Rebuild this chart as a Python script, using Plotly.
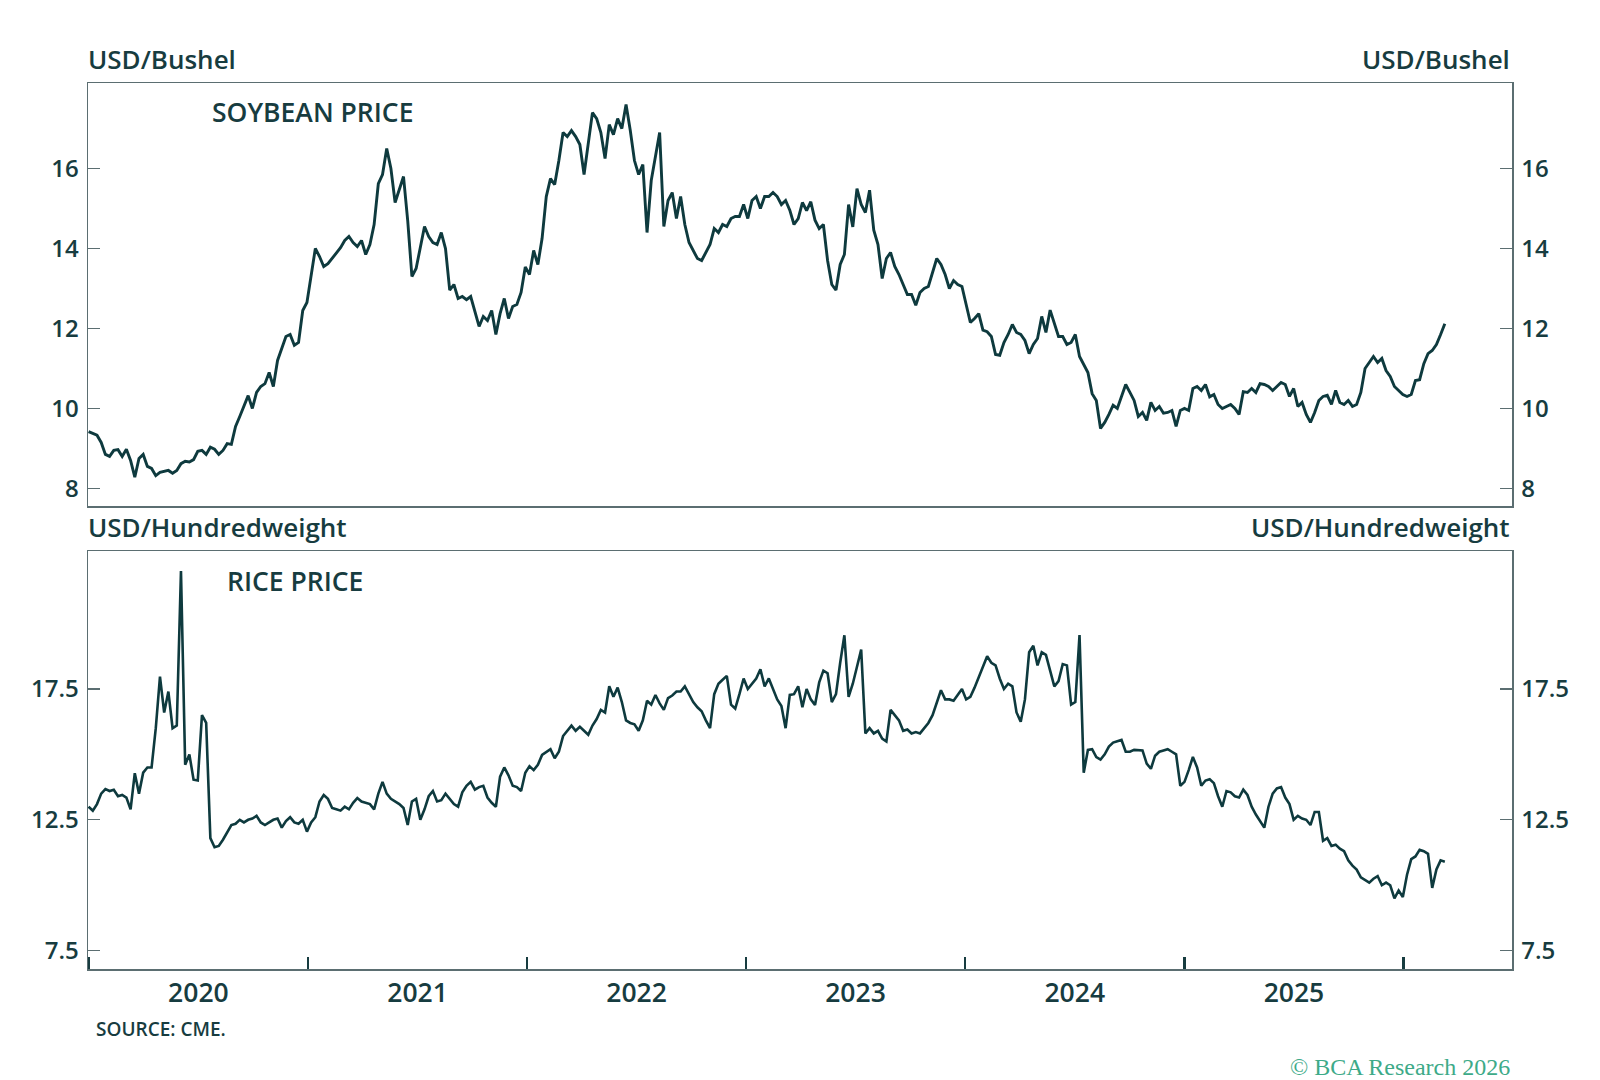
import pandas as pd
import plotly.graph_objects as go

# ---------------- data (weekly readings, starting 2020-01-01) ----------------
start_date = "2020-01-01"

soybean_usd_bushel = [
    9.42, 9.37, 9.33, 9.15, 8.85, 8.8, 8.95, 8.97, 8.8, 8.98,
    8.7, 8.28, 8.75, 8.85, 8.55, 8.5, 8.32, 8.4, 8.42, 8.45,
    8.38, 8.45, 8.62, 8.68, 8.66, 8.72, 8.93, 8.95, 8.85, 9.03,
    8.98, 8.85, 8.95, 9.12, 9.1, 9.55, 9.8, 10.05, 10.32, 10.0,
    10.4, 10.55, 10.62, 10.9, 10.55, 11.2, 11.5, 11.8, 11.85, 11.58,
    11.65, 12.45, 12.65, 13.3, 14.0, 13.8, 13.55, 13.62, 13.75, 13.9,
    14.02, 14.2, 14.3, 14.15, 14.05, 14.2, 13.85, 14.1, 14.6, 15.62,
    15.85, 16.5, 16.0, 15.15, 15.45, 15.8, 14.7, 13.3, 13.5, 14.0,
    14.55, 14.3, 14.15, 14.1, 14.4, 14.0, 12.96, 13.1, 12.75, 12.8,
    12.72, 12.8, 12.45, 12.05, 12.3, 12.2, 12.45, 11.85, 12.37, 12.75,
    12.25, 12.55, 12.6, 12.9, 13.54, 13.35, 13.95, 13.6, 14.25, 15.3,
    15.75, 15.6, 16.2, 16.9, 16.8, 16.95, 16.8, 16.6, 15.85, 16.6,
    17.4, 17.25, 16.9, 16.25, 17.1, 16.85, 17.25, 17.0, 17.6, 16.96,
    16.2, 15.85, 16.1, 14.4, 15.7, 16.3, 16.9, 14.55, 15.2, 15.4,
    14.75, 15.3, 14.6, 14.15, 13.95, 13.75, 13.7, 13.9, 14.1, 14.5,
    14.4, 14.6, 14.55, 14.75, 14.8, 14.8, 15.1, 14.75, 15.2, 15.3,
    15.0, 15.3, 15.3, 15.4, 15.3, 15.1, 15.2, 14.96, 14.6, 14.75,
    15.15, 14.95, 15.17, 14.71, 14.5, 14.6, 13.7, 13.1, 12.96, 13.6,
    13.85, 15.1, 14.54, 15.5, 15.1, 14.9, 15.46, 14.46, 14.1, 13.25,
    13.75, 13.9, 13.55, 13.35, 13.1, 12.85, 12.85, 12.58, 12.9, 13.0,
    13.05, 13.4, 13.75, 13.6, 13.35, 13.0, 13.2, 13.1, 13.05, 12.6,
    12.15, 12.25, 12.37, 11.96, 11.92, 11.8, 11.35, 11.33, 11.65, 11.85,
    12.1, 11.9, 11.85, 11.7, 11.37, 11.6, 11.75, 12.3, 11.9, 12.46,
    12.1, 11.8, 11.8, 11.6, 11.65, 11.85, 11.3, 11.1, 10.9, 10.37,
    10.2, 9.5, 9.65, 9.85, 10.08, 10.0, 10.3, 10.6, 10.4, 10.2,
    9.8, 9.9, 9.7, 10.15, 9.95, 10.05, 9.88, 9.9, 9.95, 9.55,
    9.95, 10.0, 9.95, 10.5, 10.55, 10.45, 10.6, 10.29, 10.35, 10.1,
    10.0, 10.05, 10.1, 10.0, 9.85, 10.42, 10.4, 10.5, 10.4, 10.62,
    10.6, 10.55, 10.45, 10.55, 10.65, 10.6, 10.3, 10.5, 10.05, 10.15,
    9.85, 9.65, 9.9, 10.2, 10.3, 10.33, 10.1, 10.45, 10.15, 10.1,
    10.2, 10.05, 10.1, 10.4, 11.0, 11.15, 11.3, 11.15, 11.25, 10.95,
    10.8, 10.55, 10.45, 10.35, 10.3, 10.35, 10.7, 10.72, 11.12, 11.37,
    11.45, 11.6, 11.85, 12.12,
]

rice_usd_cwt = [
    13.0, 12.85, 13.1, 13.5, 13.67, 13.6, 13.65, 13.4, 13.45, 13.35,
    12.9, 14.28, 13.5, 14.3, 14.5, 14.5, 16.0, 17.97, 16.6, 17.4,
    16.0, 16.1, 22.0, 14.6, 15.0, 14.03, 14.0, 16.5, 16.2, 11.8,
    11.45, 11.5, 11.74, 12.0, 12.3, 12.35, 12.5, 12.4, 12.5, 12.55,
    12.65, 12.4, 12.3, 12.4, 12.5, 12.55, 12.2, 12.45, 12.6, 12.4,
    12.35, 12.5, 12.05, 12.4, 12.6, 13.2, 13.45, 13.3, 12.95, 12.9,
    12.85, 13.0, 12.9, 13.15, 13.33, 13.2, 13.15, 13.1, 12.9, 13.5,
    13.95, 13.5, 13.3, 13.2, 13.1, 12.95, 12.3, 13.2, 13.3, 12.5,
    12.9, 13.4, 13.6, 13.2, 13.25, 13.5, 13.3, 13.1, 13.0, 13.55,
    13.8, 13.95, 13.65, 13.75, 13.8, 13.35, 13.15, 13.0, 14.15, 14.5,
    14.2, 13.8, 13.75, 13.6, 14.3, 14.55, 14.4, 14.6, 14.98, 15.1,
    15.2, 14.85, 15.1, 15.7, 15.9, 16.1, 15.9, 16.05, 15.9, 15.75,
    16.1, 16.35, 16.7, 16.6, 17.6, 17.2, 17.55, 17.0, 16.3, 16.2,
    16.15, 15.9, 16.3, 17.05, 16.9, 17.27, 16.95, 16.7, 17.15, 17.25,
    17.4, 17.4, 17.6, 17.3, 17.0, 16.8, 16.65, 16.3, 16.0, 17.3,
    17.7, 17.85, 18.0, 16.9, 16.75, 17.3, 17.9, 17.5, 17.7, 17.9,
    18.25, 17.6, 17.9, 17.5, 17.1, 16.85, 16.0, 17.27, 17.3, 17.6,
    16.8, 17.5, 17.1, 16.89, 17.75, 18.2, 18.1, 17.0, 17.3, 18.5,
    19.55, 17.2, 17.7, 18.35, 19.0, 15.8, 16.0, 15.8, 15.9, 15.6,
    15.49, 16.7, 16.5, 16.3, 15.9, 15.95, 15.8, 15.85, 15.8, 16.0,
    16.2, 16.5, 16.95, 17.45, 17.1, 17.1, 17.05, 17.3, 17.5, 17.1,
    17.2, 17.55, 17.95, 18.29, 18.75, 18.5, 18.4, 17.9, 17.5, 17.7,
    17.6, 16.6, 16.25, 17.1, 18.9, 19.15, 18.4, 18.9, 18.8, 18.2,
    17.6, 17.8, 18.45, 18.4, 16.9, 17.0, 19.56, 14.3, 15.17, 15.2,
    14.9, 14.8, 15.0, 15.3, 15.45, 15.5, 15.55, 15.1, 15.1, 15.17,
    15.15, 15.15, 14.65, 14.45, 14.95, 15.1, 15.15, 15.2, 15.1, 15.0,
    13.8, 13.95, 14.4, 14.9, 14.5, 13.8, 14.0, 14.05, 13.9, 13.4,
    13.0, 13.6, 13.55, 13.4, 13.35, 13.65, 13.45, 13.0, 12.7, 12.45,
    12.2, 13.0, 13.5, 13.7, 13.75, 13.35, 13.1, 12.5, 12.65, 12.55,
    12.5, 12.3, 12.8, 12.8, 11.7, 11.8, 11.5, 11.55, 11.4, 11.3,
    10.95, 10.75, 10.6, 10.3, 10.2, 10.1, 10.25, 10.35, 10.0, 10.1,
    10.0, 9.5, 9.8, 9.55, 10.4, 11.0, 11.1, 11.35, 11.3, 11.2,
    9.9, 10.6, 10.95, 10.9,
]

soy_ticks = [8, 10, 12, 14, 16]
rice_ticks = [7.5, 12.5, 17.5]
soy_range = [7.56, 18.14]
rice_range = [6.80, 22.77]
x_range = ["2019-12-31", "2026-07-01"]

soy_dates = pd.date_range(start_date, periods=len(soybean_usd_bushel), freq="7D")
rice_dates = pd.date_range(start_date, periods=len(rice_usd_cwt), freq="7D")

# ---------------- styling ----------------
W, H = 1600, 1080
ML, MR, MT, MB = 88, 88, 83, 111
PH = H - MT - MB
PW = W - ML - MR

def pyp(p):
    return (H - MB - p) / PH

def pxp(p):
    return (p - ML) / PW

TEXT = "#173c40"
LINE = "#0e3a3e"
AXIS = "#5b6e71"
FONT = "Open Sans"

fig = go.Figure()
fig.add_trace(go.Scatter(x=soy_dates, y=soybean_usd_bushel, mode="lines",
                         line=dict(color=LINE, width=2.9), xaxis="x2", yaxis="y2",
                         showlegend=False, hoverinfo="skip"))
fig.add_trace(go.Scatter(x=rice_dates, y=rice_usd_cwt, mode="lines",
                         line=dict(color=LINE, width=2.6), xaxis="x", yaxis="y",
                         showlegend=False, hoverinfo="skip"))
# transparent copies so that the right-hand (mirror) value axes are drawn
fig.add_trace(go.Scatter(x=soy_dates, y=soybean_usd_bushel, mode="lines",
                         line=dict(color="rgba(0,0,0,0)", width=0), xaxis="x2", yaxis="y4",
                         showlegend=False, hoverinfo="skip"))
fig.add_trace(go.Scatter(x=rice_dates, y=rice_usd_cwt, mode="lines",
                         line=dict(color="rgba(0,0,0,0)", width=0), xaxis="x", yaxis="y3",
                         showlegend=False, hoverinfo="skip"))

tickfont = dict(family=FONT, size=24, color=TEXT, weight=600)
yax_common = dict(showgrid=False, zeroline=False, showline=True, linecolor=AXIS,
                  linewidth=1.5, ticks="inside", ticklen=12, tickwidth=1.2,
                  tickcolor=AXIS, tickfont=tickfont, tickmode="array",
                  ticklabelstandoff=3)

fig.update_layout(
    width=W, height=H, paper_bgcolor="white", plot_bgcolor="white",
    margin=dict(l=ML, r=MR, t=MT, b=MB, pad=0),
    showlegend=False,
    xaxis=dict(domain=[0, 1], anchor="y", type="date", range=x_range,
               showgrid=False, zeroline=False, showline=True, mirror=True,
               linecolor=AXIS, linewidth=1.5, ticks="inside", ticklen=12,
               tickwidth=2.2, tickcolor=TEXT, tick0="2020-01-01", dtick="M12",
               tickformat="%Y", ticklabelmode="period",
               tickfont=dict(family=FONT, size=26.5, color=TEXT, weight=600)),
    xaxis2=dict(domain=[0, 1], anchor="y2", type="date", matches="x", range=x_range,
                showgrid=False, zeroline=False, showline=True, mirror=True,
                linecolor=AXIS, linewidth=1.5, ticks="", showticklabels=False),
    yaxis=dict(domain=[0, pyp(551)], anchor="x", range=rice_range, side="left",
               tickvals=rice_ticks, ticktext=[f"{v:g}" for v in rice_ticks],
               mirror=True, **yax_common),
    yaxis3=dict(overlaying="y", anchor="x", range=rice_range, side="right",
                tickvals=rice_ticks, ticktext=[f"{v:g}" for v in rice_ticks],
                **yax_common),
    yaxis2=dict(domain=[pyp(506), 1], anchor="x2", range=soy_range, side="left",
                tickvals=soy_ticks, ticktext=[str(v) for v in soy_ticks],
                mirror=True, **yax_common),
    yaxis4=dict(overlaying="y2", anchor="x2", range=soy_range, side="right",
                tickvals=soy_ticks, ticktext=[str(v) for v in soy_ticks],
                **yax_common),
)

def note(text, x, y, xanchor="left", size=26, color=TEXT, family=FONT, weight=600):
    fig.add_annotation(text=text, x=pxp(x), y=pyp(y), xref="paper", yref="paper",
                       xanchor=xanchor, yanchor="middle", showarrow=False,
                       font=dict(family=family, size=size, color=color, weight=weight))

note("USD/Bushel", 86, 59)
note("USD/Bushel", 1512, 59, xanchor="right")
note("SOYBEAN PRICE", 210, 112, size=26.5)
note("USD/Hundredweight", 86, 527)
note("USD/Hundredweight", 1512, 527, xanchor="right")
note("RICE PRICE", 225, 581, size=26.5)
note("SOURCE: CME.", 94, 1029, size=19)
note("© BCA Research 2026", 1512, 1067, xanchor="right", size=24,
     color="#3daa88", family="Liberation Serif", weight=400)

# remove the browser's default 8px page margin so the figure sits at (0, 0)
fig.write_html("out.html",
               config={"displayModeBar": False, "staticPlot": True},
               post_script="document.body.style.margin='0';"
                           "document.body.style.overflow='hidden';")
